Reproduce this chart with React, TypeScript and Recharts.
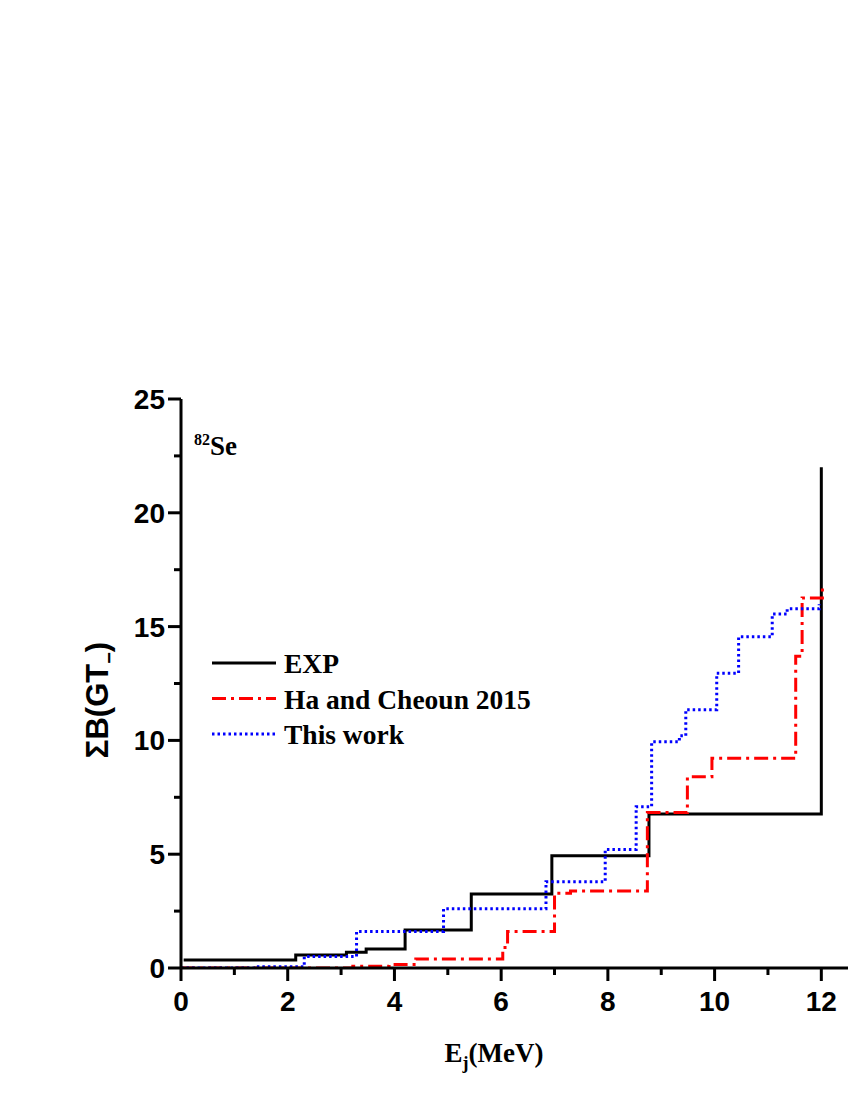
import { Customized, Line, LineChart, XAxis, YAxis } from "recharts";

// EXP (black, solid)
const expX = [0.05, 2.15, 3.1, 3.47, 4.2, 5.44, 6.95, 8.77, 12.0];
const expY = [0.35, 0.57, 0.69, 0.83, 1.67, 3.25, 4.93, 6.77, 22.0];

// Ha and Cheoun 2015 (red, dash-dot)
const haX = [0, 3.22, 3.9, 4.4, 6.03, 6.12, 7.0, 7.3, 8.74, 9.49, 9.95, 11.52, 11.64, 12.02];
const haY = [0, 0.08, 0.15, 0.4, 0.9, 1.6, 3.28, 3.38, 6.83, 8.4, 9.22, 13.7, 16.26, 16.75];

// This work (blue, dotted)
const workX = [0, 1.42, 2.31, 3.29, 4.92, 6.84, 7.95, 8.53, 8.82, 9.34, 9.46, 10.04, 10.45, 11.08, 11.36, 11.96];
const workY = [0, 0.05, 0.5, 1.6, 2.6, 3.79, 5.21, 7.09, 9.94, 10.2, 11.35, 12.95, 14.55, 15.55, 15.78, 15.98];

const xTicks = [0, 1, 2, 3, 4, 5, 6, 7, 8, 9, 10, 11, 12];
const yTicks = [0, 2.5, 5, 7.5, 10, 12.5, 15, 17.5, 20, 22.5, 25];

const toPoints = (xs: number[], ys: number[]) => xs.map((x, i) => ({ x, y: ys[i] }));

const expData = toPoints(expX, expY);
const haData = toPoints(haX, haY);
const workData = toPoints(workX, workY);

const SERIES = [
  { name: "EXP", color: "#000000", dash: undefined, width: 3 },
  { name: "Ha and Cheoun 2015", color: "#ff0000", dash: "14 5 3 5", width: 3 },
  { name: "This work", color: "#0000ff", dash: "2.5 3", width: 3 },
];

const SANS = "'Liberation Sans', Arial, sans-serif";
const SERIF = "'Liberation Serif', 'Times New Roman', serif";

const XTick = (props: any) => {
  const { x, y, payload } = props;
  const major = payload.value % 2 === 0;
  return (
    <g>
      <line x1={x} x2={x} y1={y} y2={y + (major ? 13 : 7)} stroke="#000" strokeWidth={3} />
      {major && (
        <text x={x} y={y + 43} textAnchor="middle" fontFamily={SANS} fontWeight="bold" fontSize={28} fill="#000">
          {payload.value}
        </text>
      )}
    </g>
  );
};

const YTick = (props: any) => {
  const { x, y, payload } = props;
  const major = payload.value % 5 === 0;
  return (
    <g>
      <line x1={x} x2={x - (major ? 13 : 7)} y1={y} y2={y} stroke="#000" strokeWidth={3} />
      {major && (
        <text x={x - 16} y={y + 10} textAnchor="end" fontFamily={SANS} fontWeight="bold" fontSize={28} fill="#000">
          {payload.value}
        </text>
      )}
    </g>
  );
};

const Annotations = () => (
  <g>
    <text x={494} y={1062} textAnchor="middle" fontFamily={SERIF} fontWeight="bold" fontSize={27} fill="#000">
      E
      <tspan fontSize={18} dy={7}>j</tspan>
      <tspan dy={-7}>(MeV)</tspan>
    </text>
    <text
      transform="translate(108, 700) rotate(-90)"
      textAnchor="middle"
      fontFamily={SANS}
      fontWeight="bold"
      fontSize={31}
      fill="#000"
    >
      ΣB(GT
      <tspan fontSize={20} dy={8}>−</tspan>
      <tspan dy={-8}>)</tspan>
    </text>
    <text x={194} y={455} fontFamily={SERIF} fontWeight="bold" fontSize={27} fill="#000">
      <tspan fontSize={16} dy={-10}>82</tspan>
      <tspan dy={10}>Se</tspan>
    </text>
    {SERIES.map((s, i) => (
      <g key={s.name}>
        <line
          x1={212}
          x2={276}
          y1={663 + i * 35.5}
          y2={663 + i * 35.5}
          stroke={s.color}
          strokeWidth={s.width}
          strokeDasharray={s.dash}
        />
        <text x={284} y={663 + i * 35.5 + 10} fontFamily={SERIF} fontWeight="bold" fontSize={27.5} fill="#000">
          {s.name}
        </text>
      </g>
    ))}
  </g>
);

const App = () => {
  return (
    <div style={{ position: "absolute", left: 0, top: 0, background: "#fff" }}>
      <LineChart width={850} height={1100} margin={{ top: 399, right: 2, left: 121, bottom: 92 }}>
        <XAxis
          type="number"
          dataKey="x"
          domain={[0, 12.5]}
          ticks={xTicks}
          interval={0}
          allowDataOverflow
          tickSize={0}
          tickMargin={0}
          tickLine={false}
          tick={<XTick />}
          height={40}
          axisLine={{ stroke: "#000", strokeWidth: 3 }}
        />
        <YAxis
          type="number"
          dataKey="y"
          domain={[0, 25]}
          ticks={yTicks}
          interval={0}
          allowDataOverflow
          tickSize={0}
          tickMargin={0}
          tickLine={false}
          tick={<YTick />}
          width={60}
          axisLine={{ stroke: "#000", strokeWidth: 3 }}
        />
        <Line
          data={expData}
          dataKey="y"
          type="stepAfter"
          stroke={SERIES[0].color}
          strokeWidth={SERIES[0].width}
          dot={false}
          isAnimationActive={false}
        />
        <Line
          data={haData}
          dataKey="y"
          type="stepAfter"
          stroke={SERIES[1].color}
          strokeWidth={SERIES[1].width}
          strokeDasharray={SERIES[1].dash}
          dot={false}
          isAnimationActive={false}
        />
        <Line
          data={workData}
          dataKey="y"
          type="stepAfter"
          stroke={SERIES[2].color}
          strokeWidth={SERIES[2].width}
          strokeDasharray={SERIES[2].dash}
          dot={false}
          isAnimationActive={false}
        />
        <Customized component={Annotations} />
      </LineChart>
    </div>
  );
};

export default App;
